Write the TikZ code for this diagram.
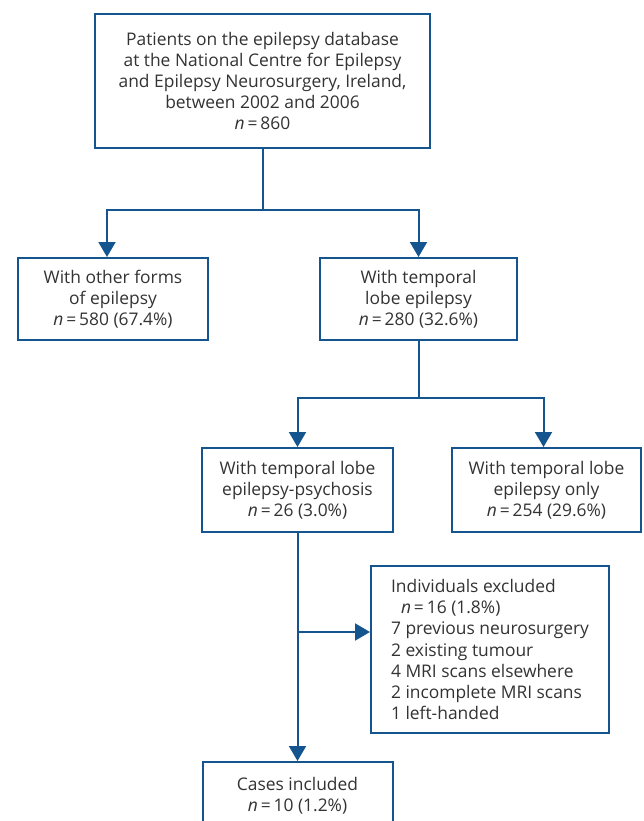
\documentclass[tikz,border=0pt]{standalone}
\usepackage{fontspec}
\setmainfont{Open Sans}
\usetikzlibrary{arrows.meta}
\definecolor{fblue}{HTML}{14558F}
\definecolor{ftext}{HTML}{333333}
\newcommand\nval[1]{\textit{n}\,=\,#1}
\begin{document}
\begin{tikzpicture}[x=1pt,y=-1pt,
  box/.style={draw=fblue, line width=2pt, text=ftext, align=center, inner sep=0pt,
              font=\fontsize{17.4}{21.2}\selectfont},
  conn/.style={draw=fblue, line width=2pt},
  arr/.style={conn, -{Triangle[width=17pt,length=15pt]}}]
\useasboundingbox (0,0) rectangle (643,821);
\clip (0,0) rectangle (643,821);
\fill[white] (0,0) rectangle (643,821);

\node[box, minimum width=335pt, minimum height=134pt] (top) at (262.5,81)
  {Patients on the epilepsy database\\at the National Centre for Epilepsy\\and Epilepsy Neurosurgery, Ireland,\\between 2002 and 2006\\\nval{860}};
\node[box, minimum width=190pt, minimum height=82pt] (other) at (113,299)
  {With other forms\\of epilepsy\\\nval{580 (67.4\%)}};
\node[box, minimum width=197pt, minimum height=82pt] (tle) at (418.5,299)
  {With temporal\\lobe epilepsy\\\nval{280 (32.6\%)}};
\node[box, minimum width=191pt, minimum height=84pt] (psy) at (297.5,490)
  {With temporal lobe\\epilepsy-psychosis\\\nval{26 (3.0\%)}};
\node[box, minimum width=189pt, minimum height=84pt] (only) at (546.5,490)
  {With temporal lobe\\epilepsy only\\\nval{254 (29.6\%)}};
\node[box, align=left, minimum width=238pt, minimum height=167pt] (excl) at (490,649.5)
  {Individuals excluded\\\hspace*{10pt}\nval{16 (1.8\%)}\\7 previous neurosurgery\\2 existing tumour\\4 MRI scans elsewhere\\2 incomplete MRI scans\\1 left-handed};
\node[box, minimum width=190pt, minimum height=67pt] (inc) at (297.5,795.5)
  {Cases included\\\nval{10 (1.2\%)}};

\coordinate (j1) at (262.5,210);
\coordinate (j2) at (418.5,398);
\coordinate (j3) at (297.5,632);

\draw[conn] (top.south) -- (j1);
\draw[arr] (j1) -| ([xshift=-6pt]other.north);
\draw[arr] (j1) -| (tle.north);
\draw[conn] (tle.south) -- (j2);
\draw[arr] (j2) -| (psy.north);
\draw[arr] (j2) -| ([xshift=-3pt]only.north);
\draw[arr] (psy.south) -- (inc.north);
\draw[arr] (j3) -- (j3 -| excl.west);
\end{tikzpicture}
\end{document}
